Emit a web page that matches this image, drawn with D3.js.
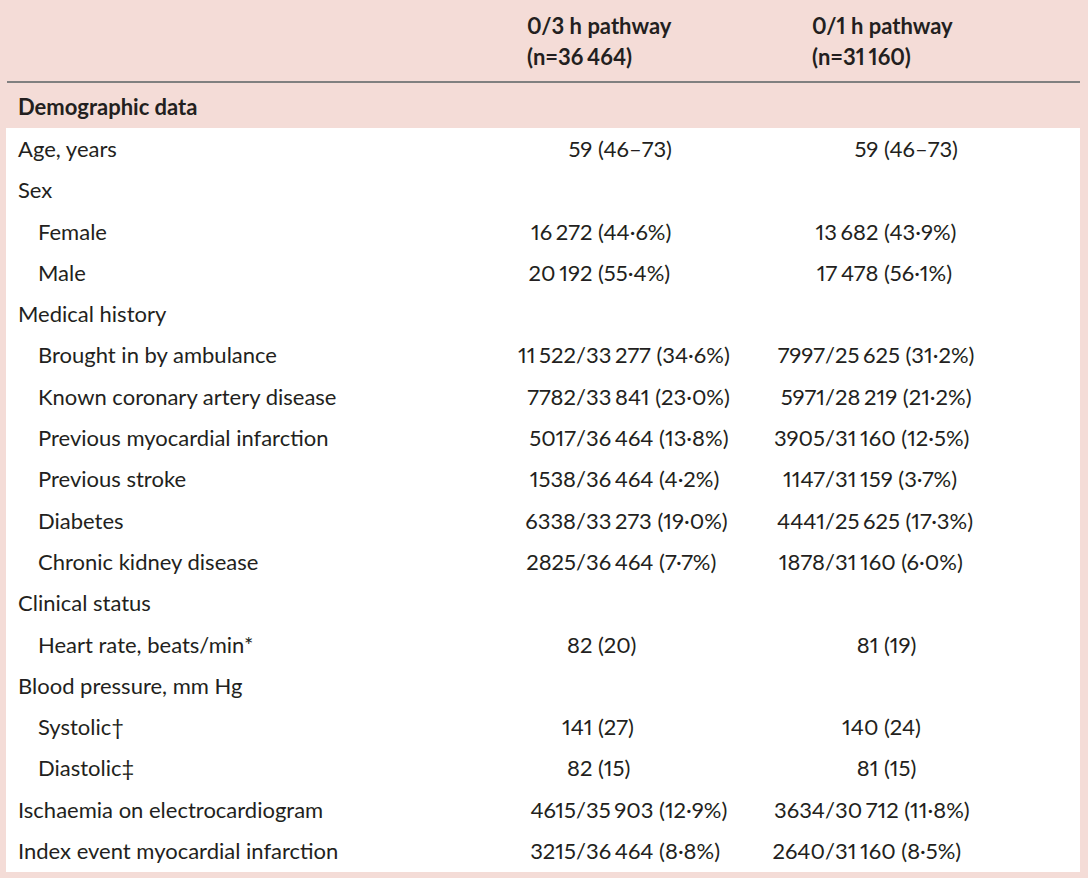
<!DOCTYPE html>
<html>
<head>
<meta charset="utf-8">
<script src="https://cdn.jsdelivr.net/npm/d3@7"></script>
<style>
  body { margin: 0; background: #f4dcd7; }
  svg text { font-family: Lato, "Open Sans", sans-serif; fill: #231f20;
             font-feature-settings: "pnum" 1; font-variant-numeric: proportional-nums; }
</style>
</head>
<body>
<script>
// Column headers
var headers = [["0/3 h pathway", "(n=36\u2006464)"], ["0/1 h pathway", "(n=31\u2006160)"]];
var sectionTitle = "Demographic data";

// Row labels, with sub-item flag (indented under a group heading)
var rowLabels = [
  "Age, years", "Sex", "Female", "Male", "Medical history",
  "Brought in by ambulance", "Known coronary artery disease", "Previous myocardial infarction",
  "Previous stroke", "Diabetes", "Chronic kidney disease", "Clinical status",
  "Heart rate, beats/min*", "Blood pressure, mm Hg", "Systolic\u2020", "Diastolic\u2021",
  "Ischaemia on electrocardiogram", "Index event myocardial infarction"
];
var isSubItem = [0, 0, 1, 1, 0, 1, 1, 1, 1, 1, 1, 0, 1, 0, 1, 1, 0, 0];

// 0/3 h pathway values
var pathway03 = [
  "59 (46\u201373)", "", "16\u2006272 (44\u00b76%)", "20\u2006192 (55\u00b74%)", "",
  "11\u2006522/33\u2006277 (34\u00b76%)", "7782/33\u2006841 (23\u00b70%)", "5017/36\u2006464 (13\u00b78%)",
  "1538/36\u2006464 (4\u00b72%)", "6338/33\u2006273 (19\u00b70%)", "2825/36\u2006464 (7\u00b77%)", "",
  "82 (20)", "", "141 (27)", "82 (15)",
  "4615/35\u2006903 (12\u00b79%)", "3215/36\u2006464 (8\u00b78%)"
];

// 0/1 h pathway values
var pathway01 = [
  "59 (46\u201373)", "", "13\u2006682 (43\u00b79%)", "17\u2006478 (56\u00b71%)", "",
  "7997/25\u2006625 (31\u00b72%)", "5971/28\u2006219 (21\u00b72%)", "3905/31\u2006160 (12\u00b75%)",
  "1147/31\u2006159 (3\u00b77%)", "4441/25\u2006625 (17\u00b73%)", "1878/31\u2006160 (6\u00b70%)", "",
  "81 (19)", "", "140 (24)", "81 (15)",
  "3634/30\u2006712 (11\u00b78%)", "2640/31\u2006160 (8\u00b75%)"
];

var width = 1088, height = 878;
var fontSize = 22;

var svg = d3.select("body").append("svg")
    .attr("width", width)
    .attr("height", height);

// white body panel
svg.append("rect")
    .attr("x", 6).attr("y", 128)
    .attr("width", 1074).attr("height", 744)
    .attr("fill", "#ffffff");

// rule under header
svg.append("line")
    .attr("x1", 7).attr("x2", 1080)
    .attr("y1", 82).attr("y2", 82)
    .attr("stroke", "#808080")
    .attr("stroke-width", 2);

// row baseline scale
var y = d3.scalePoint()
    .domain(d3.range(rowLabels.length))
    .range([157, 859]);

// column anchors: slash alignment and parenthesis alignment
var columns = [
  {values: pathway03, head: 527, slash: 576, paren: 598},
  {values: pathway01, head: 812, slash: 825, paren: 884}
];

// header text
columns.forEach(function(col, i) {
  var t = svg.append("text")
      .attr("x", col.head)
      .attr("font-size", fontSize)
      .attr("font-weight", "bold");
  headers[i].forEach(function(line, j) {
    t.append("tspan").attr("x", col.head).attr("y", 34 + j * 31).text(line);
  });
});

svg.append("text")
    .attr("x", 18).attr("y", 115)
    .attr("font-size", fontSize)
    .attr("font-weight", "bold")
    .text(sectionTitle);

// row labels
svg.append("g").selectAll("text")
    .data(rowLabels)
    .join("text")
    .attr("x", (d, i) => isSubItem[i] ? 38 : 18)
    .attr("y", (d, i) => y(i))
    .attr("font-size", fontSize)
    .text(d => d);

// values: split at "/" if present, else at "(" -> aligned parts
columns.forEach(function(col) {
  var g = svg.append("g");
  col.values.forEach(function(v, i) {
    if (!v) return;
    var k = v.indexOf("/");
    var anchor = col.slash;
    if (k < 0) { k = v.indexOf("("); anchor = col.paren; }
    g.append("text")
        .attr("x", anchor).attr("y", y(i))
        .attr("font-size", fontSize)
        .attr("text-anchor", "end")
        .attr("xml:space", "preserve")
        .text(v.slice(0, k));
    g.append("text")
        .attr("x", anchor).attr("y", y(i))
        .attr("font-size", fontSize)
        .text(v.slice(k));
  });
});
</script>
</body>
</html>
